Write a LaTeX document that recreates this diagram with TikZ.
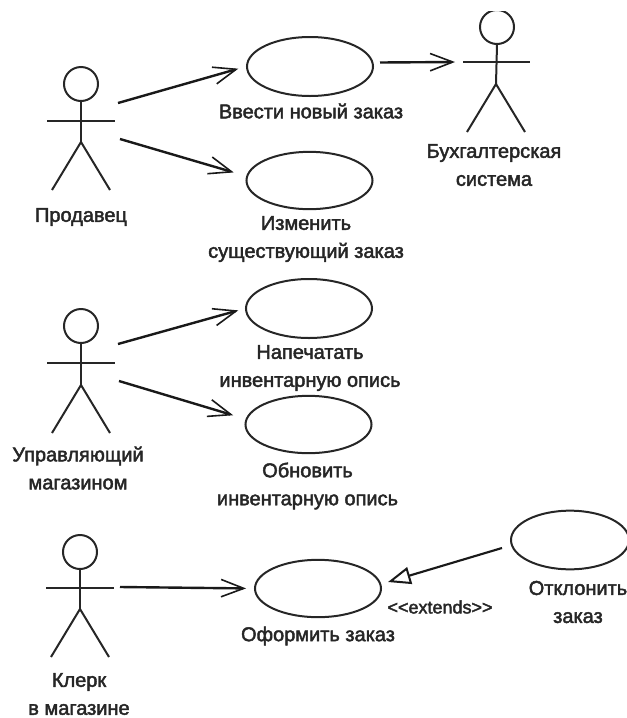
\documentclass[tikz,border=0pt]{standalone}
\usepackage{fontspec}
\setmainfont{Liberation Sans}[FakeBold=2.2]
\usetikzlibrary{arrows.meta,shapes.geometric}
\tikzset{
 uc/.style={draw=black!85,line width=1.5pt,ellipse,minimum width=2*#1*0.75pt,inner sep=0pt},
 lbl/.style={font=\fontsize{15pt}{21pt}\selectfont,align=center,inner sep=0pt,text=black!85},
 assoc/.style={draw=black!90,line width=1.8pt,-{Straight Barb[length=17pt,width=13pt,line width=1.2pt]}},
 ext/.style={draw=black!90,line width=1.6pt,-{Triangle[open,length=17pt,width=13pt,line width=1.5pt,fill=white]}},
 body/.style={draw=black!85,line width=1.5pt},
 headc/.style={circle,draw=black!85,line width=1.5pt,minimum size=25.5pt,inner sep=0pt}
}
% name, head x, head y, arm dy, hip dy, leg dy (px)
\newcommand{\actor}[6]{%
 \node[headc] (#1) at (#2,#3) {};
 \coordinate (#1hip) at (#2,#3+#5);
 \coordinate (#1la) at (#2-34,#3+#4);
 \coordinate (#1ra) at (#2+34,#3+#4);
 \coordinate (#1ll) at (#2-29,#3+#6);
 \coordinate (#1rl) at (#2+29,#3+#6);
 \draw[body] (#1.south) -- (#1hip);
 \draw[body] (#1la) -- (#1ra);
 \draw[body] (#1ll) -- (#1hip) -- (#1rl);
}
\begin{document}
\begin{tikzpicture}[x=0.75pt,y=-0.75pt]
\useasboundingbox (0,0) rectangle (627,718);
\actor{seller}{81}{84}{37}{58}{106}
\actor{manager}{81}{326}{37}{59}{107}
\actor{clerk}{80}{552}{36}{57}{105}
% accounting system: the top of its head is cut off in the picture
\begin{scope}
\clip (450,11) rectangle (545,60);
\node[headc] (acct) at (497,27) {};
\end{scope}
\coordinate (acctarmL) at (463,62);
\coordinate (acctarmR) at (530,62);
\coordinate (acctHip) at (496,84);
\coordinate (acctLL) at (467,132);
\coordinate (acctRL) at (525,132);
\draw[body] (acct.south) -- (acctHip);
\draw[body] (acctarmL) -- (acctarmR);
\draw[body] (acctLL) -- (acctHip) -- (acctRL);

\node[uc=63,minimum height=44.25pt] (u1) at (310,66.5) {};
\node[uc=63,minimum height=43pt] (u2) at (309.5,180.5) {};
\node[uc=63,minimum height=44.25pt] (u3) at (309,308.5) {};
\node[uc=63,minimum height=43pt] (u4) at (308.5,424.5) {};
\node[uc=63,minimum height=43pt] (u5) at (318,588.5) {};
\node[uc=59,minimum height=44pt] (u6) at (570,540) {};

\node[lbl] (t1) at (311,111) {Ввести новый заказ};
\node[lbl] (t2) at (306,239) {Изменить\\существующий заказ};
\node[lbl] (t3) at (310,368) {Напечатать\\инвентарную опись};
\node[lbl] (t4) at (307.5,486) {Обновить\\инвентарную опись};
\node[lbl] (t5) at (318,636) {Оформить заказ};
\node[lbl] (t6) at (578,602) {Отклонить\\заказ};
\node[lbl] (t7) at (81,217) {Продавец};
\node[lbl] (t8) at (78,468) {Управляющий\\магазином};
\node[lbl] (t9) at (79,694) {Клерк\\в магазине};
\node[lbl] (t10) at (494,165) {Бухгалтерская\\система};
\node[lbl,font=\fontsize{13.5pt}{16pt}\selectfont] (t11) at (440,607) {<{}<extends>{}>};

\coordinate (s1) at (118,103);
\coordinate (s2) at (120,139);
\coordinate (m1) at (118,344);
\coordinate (m2) at (119,381);
\coordinate (c1) at (120,587);
\coordinate (a1) at (455,62);
\coordinate (e1) at (502,548);
\coordinate (e2) at (388,582);
\draw[assoc,shorten >=8*0.75pt] (s1) -- (u1.west);
\draw[assoc,shorten >=13*0.75pt] (s2) -- (u2.176);
\draw[assoc,shorten >=7*0.75pt] (m1) -- (u3.west);
\draw[assoc,shorten >=13*0.75pt] (m2) -- (u4.175);
\draw[assoc,shorten >=8*0.75pt] (c1) -- (u5.west);
\draw[assoc] (u1.east) ++(6,-4) coordinate (u1out) (u1out) -- (a1);
\draw[ext] (e1) -- (e2);
\end{tikzpicture}
\end{document}
